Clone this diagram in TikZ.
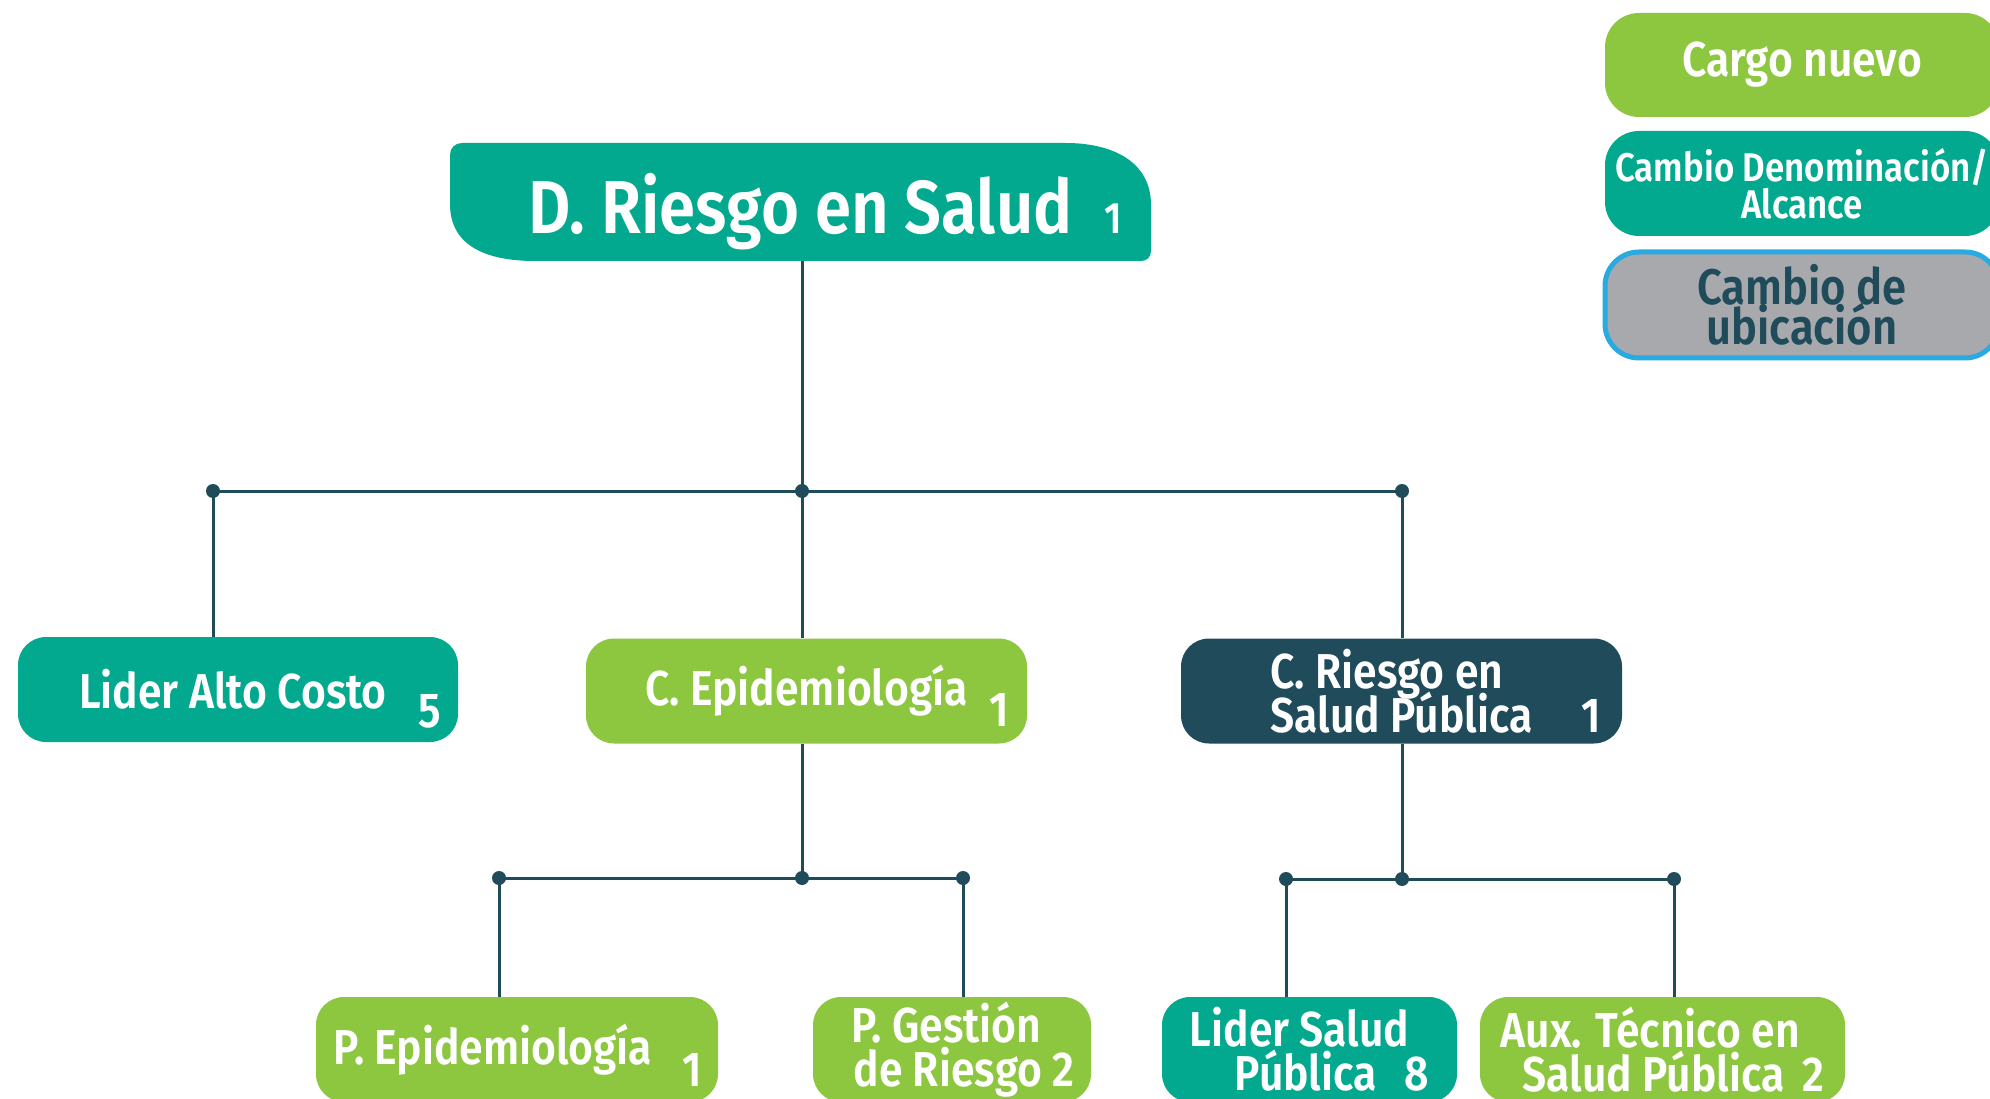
\documentclass[tikz,border=0pt]{standalone}
\usepackage{fontspec}
\setmainfont{Fira Sans}[FakeStretch=0.87, BoldFont={Fira Sans SemiBold}]
\usetikzlibrary{positioning}
\definecolor{salud}{HTML}{02A98F}
\definecolor{nuevo}{HTML}{8DC63F}
\definecolor{oscuro}{HTML}{1F4B5A}
\definecolor{gris}{HTML}{A7A9AC}
\definecolor{borde}{HTML}{29ABE2}
\setlength{\lineskiplimit}{-40pt}

\begin{document}
\begin{tikzpicture}[x=1pt, y=-1pt,
	cargo/.style={rounded corners=28pt, minimum height=105pt, inner sep=0pt, text=white, align=left,
		font=\bfseries\fontsize{49}{44}\selectfont},
	enlace/.style={draw=oscuro, line width=3pt},
	punto/.style={fill=oscuro},
	leyenda/.style={rounded corners=34pt, minimum width=394pt, inner sep=0pt, align=center},
	]

	\useasboundingbox (0,0) rectangle (1990,1099);
	\fill[white] (0,0) rectangle (1990,1099);

	% direccion
	\fill[salud] (450,155) -- (450,204) .. controls (450,248) and (490,261) .. (535,261) -- (1141,261)
		.. controls (1147,261) and (1151,257) .. (1151,251) -- (1151,205)
		.. controls (1151,160) and (1110,143) .. (1066,143) -- (462,143)
		.. controls (455,143) and (450,148) .. (450,155) -- cycle;
	\node[minimum width=701pt, minimum height=118pt, inner sep=0pt, text=white,
		text height=68pt, text depth=4pt, font=\bfseries\fontsize{75}{75}\selectfont]
		(dsalud) at (800.5,202) {D. Riesgo en Salud\rlap{\hspace{32pt}\fontsize{44}{44}\selectfont 1}};

	% coordinaciones
	\node[cargo, fill=salud, minimum width=440pt] (alto) at (238,689.5)
		{\hspace{-10pt}Lider Alto Costo\rlap{\hspace{32pt}\raisebox{-19pt}[0pt][0pt]{5}}};
	\node[cargo, fill=nuevo, minimum width=441pt] (cepi) at (806.5,691)
		{C. Epidemiología\rlap{\hspace{22pt}\raisebox{-21pt}[0pt][0pt]{1}}};
	\node[cargo, fill=oscuro, minimum width=441pt] (crsp) at (1401.5,691)
		{C. Riesgo en\\Salud Pública\rlap{\hspace{49pt}1}};

	% profesionales
	\node[cargo, fill=nuevo, minimum width=402pt] (pepi) at (517,1049.5)
		{\hspace{-48pt}P. Epidemiología\rlap{\hspace{30pt}\raisebox{-22pt}[0pt][0pt]{1}}};
	\node[cargo, fill=nuevo, minimum width=278pt] (pgr) at (952,1049.5)
		{\hspace{22pt}P. Gestión\\\hspace{24pt}de Riesgo 2};
	\node[cargo, fill=salud, minimum width=295pt] (lsp) at (1309.5,1049.5)
		{Lider Salud\\\hspace{45pt}Pública\hspace{28pt}8};
	\node[cargo, fill=nuevo, minimum width=365pt] (aux) at (1662.5,1049.5)
		{Aux. Técnico en\\\hspace{22pt}Salud Pública\hspace{18pt}2};

	% uniones
	\coordinate (j1) at (802,491);
	\coordinate (j1l) at (213,491);
	\coordinate (j1r) at (1402,491);
	\coordinate (j2) at (802,878);
	\coordinate (j2l) at (499,878);
	\coordinate (j2r) at (963,878);
	\coordinate (j3) at (1402,879);
	\coordinate (j3l) at (1286,879);
	\coordinate (j3r) at (1674,879);

	\draw[enlace] (dsalud.south -| j1) -- (j1);
	\draw[enlace] (j1l) -- (j1r);
	\draw[enlace] (j1l) -- (j1l |- alto.north);
	\draw[enlace] (j1) -- (j1 |- cepi.north);
	\draw[enlace] (j1r) -- (j1r |- crsp.north);

	\draw[enlace] (cepi.south -| j2) -- (j2);
	\draw[enlace] (j2l) -- (j2r);
	\draw[enlace] (j2l) -- (j2l |- pepi.north);
	\draw[enlace] (j2r) -- (j2r |- pgr.north);

	\draw[enlace] (crsp.south -| j3) -- (j3);
	\draw[enlace] (j3l) -- (j3r);
	\draw[enlace] (j3l) -- (j3l |- lsp.north);
	\draw[enlace] (j3r) -- (j3r |- aux.north);

	\foreach \p in {j1,j1l,j1r,j2,j2l,j2r,j3,j3l,j3r}
		\fill[punto] (\p) circle (7pt);

	% leyenda
	\node[leyenda, fill=nuevo, minimum height=104pt, text=white,
		font=\bfseries\fontsize{49}{49}\selectfont] (lnuevo) at (1802,65) {Cargo nuevo};
	\node[leyenda, fill=salud, minimum height=105pt, text=white,
		font=\bfseries\fontsize{40}{37}\selectfont] (lcambio) at (1802,183.5)
		{Cambio Denominación/\\Alcance};
	\node[leyenda, fill=gris, draw=borde, line width=5pt, minimum height=106pt, text=oscuro,
		font=\bfseries\fontsize{50}{40}\selectfont] (lubica) at (1802,305)
		{Cambio de\\ubicación};

\end{tikzpicture}
\end{document}
